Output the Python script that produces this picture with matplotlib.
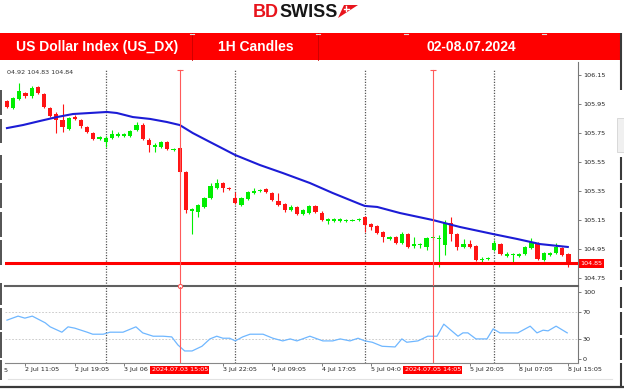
import matplotlib
matplotlib.use('Agg')
import matplotlib.pyplot as plt
from matplotlib.patches import Rectangle, Polygon
from matplotlib.transforms import blended_transform_factory as btf
import numpy as np

W, H = 624, 391

# ---------------- data ----------------
opens = [105.971, 105.922, 105.984, 106.026, 106.005, 106.067, 106.019, 105.922, 105.881, 105.840,
         105.778, 105.860, 105.840, 105.791, 105.750, 105.709, 105.688, 105.716, 105.729, 105.729,
         105.729, 105.771, 105.805, 105.702, 105.653, 105.653, 105.688, 105.633, 105.647, 105.481,
         105.212, 105.205, 105.240, 105.302, 105.371, 105.405, 105.371, 105.302, 105.253, 105.295,
         105.336, 105.350, 105.364, 105.336, 105.281, 105.260, 105.219, 105.240, 105.191, 105.198,
         105.247, 105.198, 105.143, 105.143, 105.143, 105.143, 105.143, 105.150, 105.171, 105.122,
         105.109, 105.067, 105.019, 105.033, 104.991, 105.053, 104.971, 104.978, 104.964, 105.026,
         105.019, 104.978, 105.129, 105.053, 104.964, 104.984, 104.971, 104.874, 104.881, 104.943,
         104.984, 104.902, 104.909, 104.902, 104.916, 104.957, 104.991, 104.874, 104.909, 104.922,
         104.957, 104.916]
highs = [105.978, 105.998, 106.095, 106.033, 106.074, 106.074, 106.026, 105.929, 105.895, 105.950,
         105.860, 105.874, 105.847, 105.798, 105.757, 105.729, 105.729, 105.771, 105.757, 105.750,
         105.771, 105.826, 105.819, 105.716, 105.681, 105.695, 105.695, 105.647, 105.653, 105.488,
         105.233, 105.260, 105.309, 105.405, 105.433, 105.412, 105.378, 105.343, 105.309, 105.350,
         105.371, 105.364, 105.371, 105.343, 105.336, 105.267, 105.253, 105.247, 105.226, 105.253,
         105.253, 105.212, 105.164, 105.164, 105.164, 105.157, 105.157, 105.164, 105.178, 105.129,
         105.116, 105.074, 105.040, 105.040, 105.067, 105.060, 105.033, 104.991, 105.033, 105.047,
         105.047, 105.150, 105.171, 105.060, 105.019, 105.012, 104.978, 104.895, 104.895, 105.012,
         104.991, 104.929, 104.922, 104.922, 104.971, 105.026, 104.998, 104.929, 104.929, 104.991,
         104.964, 104.922]
lows = [105.922, 105.916, 105.978, 105.991, 105.991, 106.019, 105.922, 105.860, 105.750, 105.757,
        105.771, 105.840, 105.784, 105.750, 105.702, 105.702, 105.653, 105.709, 105.722, 105.722,
        105.722, 105.764, 105.702, 105.619, 105.619, 105.647, 105.633, 105.626, 105.474, 105.198,
        105.053, 105.171, 105.233, 105.295, 105.364, 105.343, 105.357, 105.260, 105.247, 105.288,
        105.329, 105.343, 105.336, 105.281, 105.247, 105.205, 105.212, 105.184, 105.184, 105.191,
        105.198, 105.143, 105.122, 105.136, 105.136, 105.136, 105.140, 105.143, 105.067, 105.081,
        105.053, 104.998, 105.012, 104.984, 104.984, 104.957, 104.957, 104.957, 104.943, 105.012,
        104.826, 104.909, 105.005, 104.943, 104.957, 104.957, 104.867, 104.853, 104.874, 104.936,
        104.909, 104.895, 104.853, 104.895, 104.909, 104.950, 104.874, 104.867, 104.902, 104.916,
        104.902, 104.826]
closes = [105.929, 105.991, 106.040, 106.005, 106.060, 106.026, 105.929, 105.867, 105.840, 105.791,
          105.853, 105.847, 105.798, 105.757, 105.709, 105.722, 105.716, 105.743, 105.743, 105.743,
          105.764, 105.805, 105.709, 105.667, 105.667, 105.688, 105.640, 105.640, 105.481, 105.219,
          105.226, 105.253, 105.302, 105.384, 105.405, 105.371, 105.364, 105.267, 105.302, 105.343,
          105.350, 105.357, 105.343, 105.288, 105.253, 105.219, 105.240, 105.191, 105.219, 105.247,
          105.205, 105.150, 105.157, 105.157, 105.157, 105.150, 105.150, 105.157, 105.116, 105.102,
          105.060, 105.033, 105.033, 104.991, 105.053, 104.964, 104.984, 104.984, 105.026, 105.033,
          105.026, 105.129, 105.053, 104.964, 104.984, 104.964, 104.874, 104.881, 104.888, 104.991,
          104.916, 104.916, 104.916, 104.916, 104.964, 104.998, 104.881, 104.922, 104.922, 104.964,
          104.909, 104.840]

# moving average (traced points: bar position, value)
ma_pos = [0, 2.6, 5.35, 8.1, 10.7, 13.45, 16.2, 17.8, 20.4, 23.2, 25.9, 28.0, 30.1, 32.9, 34.5,
          37.0, 41.0, 44.7, 49.1, 52.8, 57.2, 58.0, 60.0, 63.7, 69.0, 73.4, 78.8, 82.7, 86.4, 90.9]
ma_val = [105.784, 105.805, 105.833, 105.860, 105.881, 105.888, 105.895, 105.888, 105.860, 105.847,
          105.826, 105.805, 105.750, 105.688, 105.653, 105.598, 105.529, 105.474, 105.405, 105.336,
          105.260, 105.247, 105.240, 105.198, 105.150, 105.102, 105.053, 105.019, 104.984, 104.964]

# oscillator (traced points: bar position, value)
osc_pos = [0, 1.8, 2.9, 4.1, 6.2, 7.0, 8.9, 9.9, 11.0, 13.0, 13.9, 15.6, 16.7, 18.8, 20.9, 22.0,
           23.7, 25.3, 26.7, 27.7, 28.8, 30.0, 31.6, 32.9, 34.0, 35.0, 36.1, 37.0, 38.2, 39.4,
           41.5, 43.1, 44.7, 45.9, 47.0, 49.1, 51.2, 52.8, 54.0, 55.6, 56.9, 58.0, 59.2, 60.8,
           62.9, 64.0, 64.8, 66.6, 68.2, 69.7, 70.8, 73.1, 73.9, 74.7, 76.0, 77.8, 78.8, 79.9,
           82.8, 84.8, 85.9, 86.9, 87.7, 89.0, 90.8]
osc_val = [58, 64, 61, 64, 54, 48, 40, 48, 46, 40, 37, 37, 40, 40, 48, 39,
           34, 34, 33, 21, 12, 12, 19, 30, 34, 31, 31, 27, 33, 37,
           37, 31, 27, 30, 27, 34, 27, 27, 30, 27, 31, 27, 25, 19,
           18, 30, 25, 27, 34, 34, 52, 34, 39, 39, 30, 30, 45, 39,
           39, 49, 39, 43, 42, 49, 39]

price_ticks = [106.15, 105.95, 105.75, 105.55, 105.35, 105.15, 104.95, 104.75]
osc_ticks = [100, 70, 30, 0]
level_price = 104.85
day_sep = [16, 37, 58, 79]
cursor_pos = [28, 69]
cursor_labels = ["2024.07.03 15:05", "2024.07.05 14:05"]
time_pos = [3, 11, 19, 35, 43, 51, 59, 75, 83, 91]
time_labels = ["2 Jul 11:05", "2 Jul 19:05", "3 Jul 06", "3 Jul 22:05", "4 Jul 09:05",
               "4 Jul 17:05", "5 Jul 04:0", "5 Jul 20:05", "8 Jul 07:05", "8 Jul 15:05"]

# ---------------- figure ----------------
plt.rcParams['font.family'] = ['DejaVu Sans']
fig = plt.figure(figsize=(W / 100, H / 100), dpi=100)
fig.patch.set_facecolor('white')

bg = fig.add_axes([0, 0, 1, 1])
bg.set_xlim(0, W)
bg.set_ylim(H, 0)
bg.axis('off')


def px(x0, y0, x1, y1):
    return [x0 / W, 1 - y1 / H, (x1 - x0) / W, (y1 - y0) / H]


HF = ['Liberation Sans', 'DejaVu Sans']
# logo
bg.text(279, 12.5, "BD", color='#e8141c', fontsize=13, fontweight='bold', family=HF,
        ha='right', va='center')
bg.text(279, 12.5, "SWISS", color='#161616', fontsize=13, fontweight='bold', family=HF,
        ha='left', va='center')
bg.add_patch(Polygon([(338, 18), (344, 5), (358, 5)], closed=True, color='#e8141c', lw=0))
bg.plot([343.5, 348.5], [8.5, 8.5], color='white', lw=1.0)
bg.plot([346, 346], [6, 11], color='white', lw=1.0)

# header bar
bg.add_patch(Rectangle((0, 33), 621, 27, color='#fe0000', lw=0))
for xs in [192, 318]:
    bg.plot([xs, xs], [33, 60], color='#c80000', lw=0.6)
for xs in [192, 318, 406, 544]:
    bg.plot([xs - 2, xs + 2], [33.5, 33.5], color='#dddddd', lw=0.8)
bg.text(97, 47, "US Dollar Index (US_DX)", color='white', fontsize=10, fontweight='bold',
        family=HF, ha='center', va='center')
bg.text(256, 47, "1H Candles", color='white', fontsize=10, fontweight='bold',
        family=HF, ha='center', va='center')
bg.text(471, 47, "02-08.07.2024", color='white', fontsize=10, fontweight='bold',
        family=HF, ha='center', va='center')

# window borders
bg.plot([0, W], [386.5, 386.5], color='#3a3a3a', lw=1.6)
bg.plot([8, 612], [379, 379], color='#e2e2e2', lw=0.8)
left_y0 = [90, 119, 155, 183, 212, 240, 283, 308, 332, 360]
left_y1 = [115, 143, 180, 208, 237, 265, 305, 330, 358, 380]
bg.vlines([1.2] * len(left_y0), left_y0, left_y1, color='#444444', lw=1.3)
right_y0 = [33, 157, 183, 212, 240, 270, 287, 312, 338, 363]
right_y1 = [90, 180, 208, 237, 267, 280, 308, 335, 360, 386]
bg.vlines([620.5] * len(right_y0), right_y0, right_y1, color='#3a3a3a', lw=1.5)
bg.add_patch(Rectangle((617, 118), 7, 34, facecolor='#f0f0f0', edgecolor='#cccccc', lw=0.5))
bg.text(6, 370, "5", fontsize=4.6, color='#222222', ha='center', va='center')

# ---------------- price panel ----------------
ax = fig.add_axes(px(5, 62, 578, 286))
ax.set_facecolor('none')
ax.set_xlim(-0.32, 92.55)
ax.set_ylim(104.6948, 106.2397)

x = np.arange(len(opens))
o = np.array(opens); h = np.array(highs); l = np.array(lows); c = np.array(closes)
up = c >= o
cols = np.where(up, '#00ee00', '#ff1414')
ax.vlines(x, l, h, colors=cols, lw=0.8, zorder=3)
body_b = np.minimum(o, c)
body_h = np.maximum(np.abs(c - o), 0.007)
ax.bar(x, body_h, bottom=body_b, width=0.68, color=cols, lw=0, zorder=4)

ax.plot(ma_pos, ma_val, color='#1c1cd6', lw=1.5, zorder=5)

ax.axhline(level_price, color='#aaaaaa', lw=0.6, zorder=2)
ax.axhline(level_price + 0.004, color='#ff0000', lw=2.2, zorder=6)
ax.text(1.004, level_price, "104.85", transform=btf(ax.transAxes, ax.transData),
        fontsize=4.6, color='white', ha='left', va='center', zorder=10,
        bbox=dict(boxstyle='square,pad=0.25', fc='#ff0000', ec='none'))

top_frac = (286 - 70) / (286 - 62)
for d in day_sep:
    ax.axvline(d, ymax=top_frac, color='#555555', lw=0.9, ls=(0, (1, 1.2)), zorder=1)
for cp in cursor_pos:
    ax.axvline(cp, ymax=top_frac, color='#ff5a5a', lw=0.8, zorder=7)
    ax.plot([cp], [top_frac], marker='_', ms=4, mew=0.8, color='#ff5a5a',
            transform=btf(ax.transData, ax.transAxes), clip_on=False, zorder=7)
ax.plot([cursor_pos[0]], [0.0], marker='o', ms=3, mfc='white', mec='#ff5a5a', mew=0.8,
        transform=btf(ax.transData, ax.transAxes), clip_on=False, zorder=11)

ax.text(0.0035, 0.951, "04.92 104.83 104.84", transform=ax.transAxes, fontsize=4.6,
        color='#333333', ha='left', va='center')

ax.yaxis.tick_right()
ax.set_yticks(price_ticks)
ax.set_yticklabels([f"{v:.2f}" for v in price_ticks])
ax.tick_params(axis='y', length=2, width=0.6, color='#666666', labelsize=4.6,
               pad=1.5, labelcolor='#222222')
ax.set_xticks([])
for s in ['left', 'top']:
    ax.spines[s].set_visible(False)
ax.spines['right'].set_color('#777777')
ax.spines['right'].set_linewidth(0.8)
ax.spines['bottom'].set_color('#606060')
ax.spines['bottom'].set_linewidth(1.5)

# ---------------- oscillator panel ----------------
ax2 = fig.add_axes(px(5, 287, 578, 363))
ax2.set_facecolor('none')
ax2.set_xlim(-0.32, 92.55)
ax2.set_ylim(-5.97, 107.46)
for lv in [70, 30]:
    ax2.axhline(lv, color='#c4c4c4', lw=0.6, ls=(0, (2, 2)), zorder=1)
for d in day_sep:
    ax2.axvline(d, color='#555555', lw=0.9, ls=(0, (1, 1.2)), zorder=1)
for cp in cursor_pos:
    ax2.axvline(cp, color='#ff5a5a', lw=0.8, zorder=7)
ax2.plot(osc_pos, osc_val, color='#6fb7ff', lw=0.9, zorder=5)

ax2.yaxis.tick_right()
ax2.set_yticks(osc_ticks)
ax2.set_yticklabels([str(v) for v in osc_ticks])
ax2.tick_params(axis='y', length=2, width=0.6, color='#666666', labelsize=4.6,
                pad=1.5, labelcolor='#222222')
ax2.set_xticks(time_pos)
ax2.set_xticklabels(time_labels)
ax2.tick_params(axis='x', length=2, width=0.6, color='#666666', labelsize=4.6,
                pad=1.0, labelcolor='#222222')
for t in ax2.get_xticklabels():
    t.set_ha('left')
for s in ['left', 'top']:
    ax2.spines[s].set_visible(False)
ax2.spines['right'].set_color('#777777')
ax2.spines['right'].set_linewidth(0.8)
ax2.spines['bottom'].set_color('#888888')
ax2.spines['bottom'].set_linewidth(0.8)

for cp, lab in zip(cursor_pos, cursor_labels):
    ax2.text(cp, -0.092, lab, transform=btf(ax2.transData, ax2.transAxes), fontsize=4.6,
             color='white', ha='center', va='center', zorder=12,
             bbox=dict(boxstyle='square,pad=0.2', fc='#ff0000', ec='none'))

fig.savefig('out.png', dpi=100, facecolor='white')
